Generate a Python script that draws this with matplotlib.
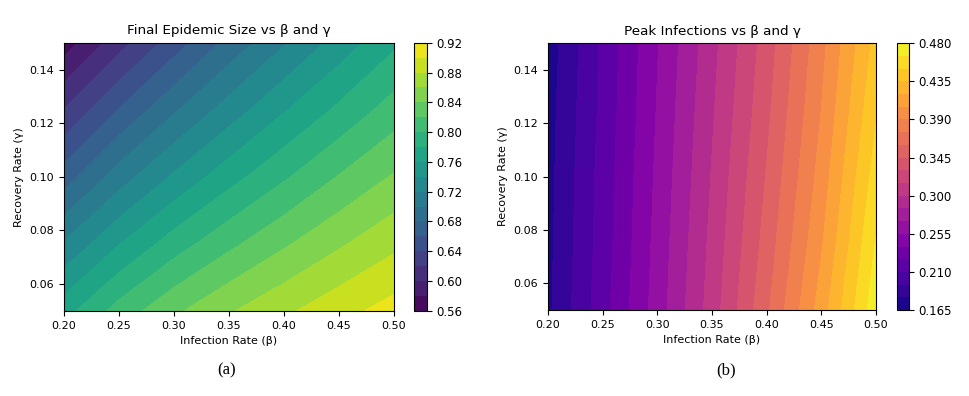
import numpy as np
import matplotlib
matplotlib.use("Agg")
import matplotlib.pyplot as plt

# Grid of parameter values
beta = [0.20, 0.25, 0.30, 0.35, 0.40, 0.45, 0.50]
gamma = [0.05, 0.075, 0.10, 0.125, 0.15]

# Final epidemic size (rows = gamma, cols = beta)
final_size = [
    [0.772, 0.808, 0.836, 0.858, 0.876, 0.893, 0.908],
    [0.722, 0.759, 0.790, 0.815, 0.837, 0.857, 0.875],
    [0.670, 0.710, 0.743, 0.772, 0.797, 0.821, 0.842],
    [0.620, 0.661, 0.697, 0.729, 0.758, 0.784, 0.809],
    [0.570, 0.612, 0.650, 0.686, 0.718, 0.748, 0.776],
]

# Peak infections (rows = gamma, cols = beta)
peak_inf = [
    [0.177, 0.219, 0.262, 0.307, 0.357, 0.412, 0.475],
    [0.176, 0.217, 0.260, 0.304, 0.351, 0.403, 0.466],
    [0.175, 0.216, 0.258, 0.301, 0.346, 0.396, 0.457],
    [0.174, 0.214, 0.256, 0.298, 0.341, 0.390, 0.448],
    [0.172, 0.213, 0.254, 0.295, 0.337, 0.385, 0.440],
]

size_ticks = [0.56, 0.60, 0.64, 0.68, 0.72, 0.76, 0.80, 0.84, 0.88, 0.92]
peak_ticks = [0.165, 0.210, 0.255, 0.300, 0.345, 0.390, 0.435, 0.480]

B, G = np.meshgrid(beta, gamma)

fig = plt.figure(figsize=(9.7, 3.96), dpi=100)

# (a) final epidemic size
ax1 = fig.add_axes([0.066, 0.215, 0.340, 0.677])
cax1 = fig.add_axes([0.427, 0.215, 0.013, 0.677])
cs1 = ax1.contourf(B, G, np.array(final_size),
                   levels=np.linspace(0.56, 0.92, 19), cmap="viridis")
cb1 = fig.colorbar(cs1, cax=cax1, ticks=size_ticks)
cb1.ax.set_yticklabels([f"{t:.2f}" for t in size_ticks])
ax1.set_title("Final Epidemic Size vs β and γ", fontsize=9.7)
ax1.set_xlabel("Infection Rate (β)", fontsize=8)
ax1.set_ylabel("Recovery Rate (γ)", fontsize=8)
ax1.set_xticks([0.20, 0.25, 0.30, 0.35, 0.40, 0.45, 0.50])
ax1.set_yticks([0.06, 0.08, 0.10, 0.12, 0.14])
ax1.tick_params(labelsize=8)
cb1.ax.tick_params(labelsize=8.5)
fig.text(0.234, 0.055, "(a)", fontsize=12, family="Liberation Serif", ha="center")

# (b) peak infections
ax2 = fig.add_axes([0.565, 0.217, 0.338, 0.674])
cax2 = fig.add_axes([0.925, 0.217, 0.012, 0.674])
cs2 = ax2.contourf(B, G, np.array(peak_inf),
                   levels=np.linspace(0.165, 0.48, 22), cmap="plasma")
cb2 = fig.colorbar(cs2, cax=cax2, ticks=peak_ticks)
cb2.ax.set_yticklabels([f"{t:.3f}" for t in peak_ticks])
ax2.set_title("Peak Infections vs β and γ", fontsize=9.7)
ax2.set_xlabel("Infection Rate (β)", fontsize=8)
ax2.set_ylabel("Recovery Rate (γ)", fontsize=8)
ax2.set_xticks([0.20, 0.25, 0.30, 0.35, 0.40, 0.45, 0.50])
ax2.set_yticks([0.06, 0.08, 0.10, 0.12, 0.14])
ax2.tick_params(labelsize=8)
cb2.ax.tick_params(labelsize=8.5)
fig.text(0.749, 0.055, "(b)", fontsize=12, family="Liberation Serif", ha="center")

fig.savefig("out.png", dpi=100)
